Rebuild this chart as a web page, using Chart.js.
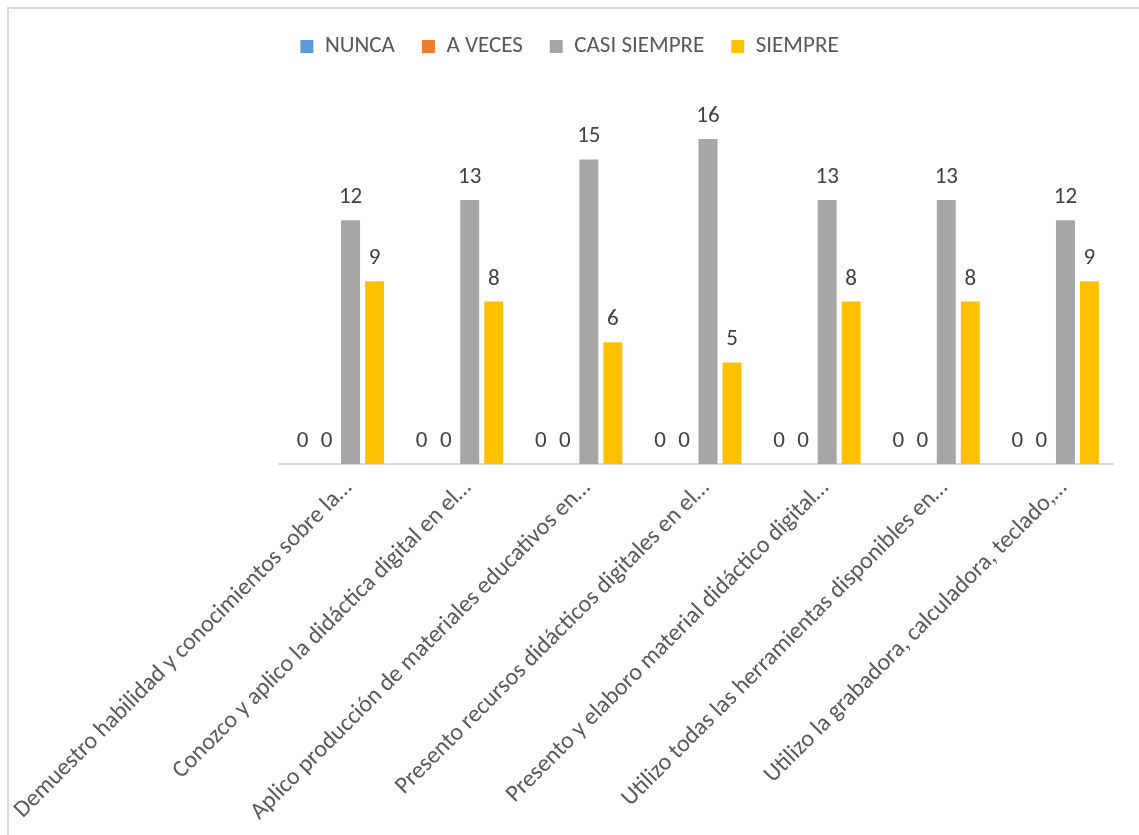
<!DOCTYPE html>
<html>
<head>
<meta charset="utf-8">
<script src="https://cdn.jsdelivr.net/npm/chart.js@4.4.1/dist/chart.umd.min.js"></script>
<style>
  html, body { margin: 0; padding: 0; background: #ffffff; }
  #wrap { width: 1139px; height: 835px; position: relative; }
</style>
</head>
<body>
<div id="wrap"><canvas id="c" width="1139" height="835"></canvas></div>
<script>
const categories = [
  "Demuestro habilidad y conocimientos sobre la…",
  "Conozco y aplico la didáctica digital en el…",
  "Aplico producción de materiales educativos en…",
  "Presento recursos didácticos digitales en el…",
  "Presento y elaboro material didáctico digital…",
  "Utilizo todas las herramientas disponibles en…",
  "Utilizo la grabadora, calculadora, teclado,…"
];
const seriesNames = ["NUNCA", "A VECES", "CASI SIEMPRE", "SIEMPRE"];
const nunca = [0, 0, 0, 0, 0, 0, 0];
const aVeces = [0, 0, 0, 0, 0, 0, 0];
const casiSiempre = [12, 13, 15, 16, 13, 13, 12];
const siempre = [9, 8, 6, 5, 8, 8, 9];
const colors = ["#5B9BD5", "#ED7D31", "#A5A5A5", "#FFC000"];

const FONT = "Carlito, Calibri, Lato, sans-serif";

const frame = {
  id: 'frame',
  beforeDraw(chart) {
    const ctx = chart.ctx;
    ctx.save();
    ctx.fillStyle = '#ffffff';
    ctx.fillRect(0, 0, chart.width, chart.height);
    ctx.strokeStyle = '#d9d9d9';
    ctx.lineWidth = 2;
    ctx.beginPath();
    ctx.moveTo(8, chart.height);
    ctx.lineTo(8, 8);
    ctx.lineTo(chart.width, 8);
    ctx.stroke();
    ctx.restore();
  }
};

const valueLabels = {
  id: 'valueLabels',
  afterDatasetsDraw(chart) {
    const ctx = chart.ctx;
    ctx.save();
    ctx.font = "23px " + FONT;
    ctx.fillStyle = '#404040';
    ctx.textAlign = 'center';
    ctx.textBaseline = 'alphabetic';
    chart.data.datasets.forEach((ds, i) => {
      const meta = chart.getDatasetMeta(i);
      meta.data.forEach((bar, j) => {
        ctx.fillText(String(ds.data[j]), bar.x, bar.y - 17);
      });
    });
    ctx.restore();
  }
};

new Chart(document.getElementById('c'), {
  type: 'bar',
  data: {
    labels: categories,
    datasets: [
      { label: seriesNames[0], data: nunca, backgroundColor: colors[0] },
      { label: seriesNames[1], data: aVeces, backgroundColor: colors[1] },
      { label: seriesNames[2], data: casiSiempre, backgroundColor: colors[2] },
      { label: seriesNames[3], data: siempre, backgroundColor: colors[3] }
    ]
  },
  options: {
    responsive: false,
    animation: false,
    devicePixelRatio: 1,
    layout: { padding: { left: 0, right: 0, top: 8, bottom: 0 } },
    datasets: { bar: { categoryPercentage: 0.806, barPercentage: 0.79 } },
    plugins: {
      tooltip: { enabled: false },
      legend: {
        position: 'top',
        align: 'center',
        labels: {
          boxWidth: 13,
          boxHeight: 13,
          padding: 27,
          color: '#595959',
          font: { family: FONT, size: 23 }
        }
      }
    },
    scales: {
      x: {
        grid: { display: false, drawTicks: false },
        border: { display: true, color: '#d9d9d9', width: 2 },
        ticks: {
          autoSkip: false,
          maxRotation: 45,
          minRotation: 45,
          padding: 10,
          labelOffset: 10,
          color: '#595959',
          font: { family: FONT, size: 24 }
        },
        afterFit(scale) {
          scale.height = 371;
          scale.paddingLeft = 279;
          scale.paddingRight = 26;
        }
      },
      y: {
        display: false,
        min: 0,
        max: 19.5
      }
    }
  },
  plugins: [frame, valueLabels]
});
</script>
</body>
</html>
